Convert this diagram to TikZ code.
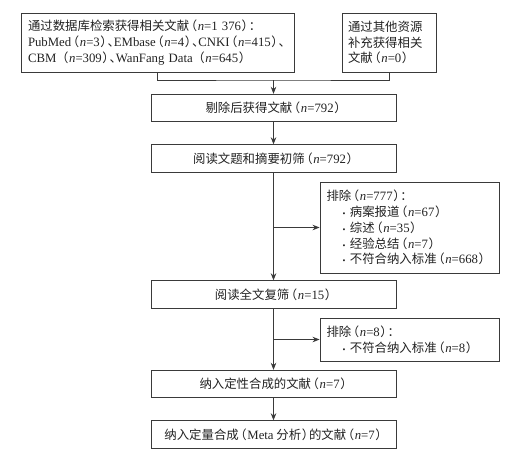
\documentclass[tikz,border=0pt]{standalone}
\usepackage{fontspec}
\setmainfont{Liberation Serif}[Scale=1.03]
\newfontfamily\cjk{Noto Sans CJK SC}[RawFeature=+halt]
\usetikzlibrary{arrows.meta}
\newcommand\lt[1]{{\rmfamily #1}}
\newcommand\nn{{\rmfamily\itshape n}}
\newcommand\lp{\kern1.8pt（\kern0.6pt}
\newcommand\rp{\kern0.6pt）\kern1pt}
\newcommand\bul{\hspace*{16pt}{\rmfamily\footnotesize\textbullet}\hspace{4.5pt}}
\definecolor{linec}{HTML}{3A3A3A}
\definecolor{txtc}{HTML}{222222}
\begin{document}
\begin{tikzpicture}[x=1pt,y=-1pt,
  box/.style={draw=linec, line width=0.9pt, inner sep=0pt, text=txtc,
    font=\cjk\fontsize{12.4}{15.8}\selectfont},
  mid/.style={box, minimum width=245pt, minimum height=27.5pt},
  side/.style={box, inner xsep=6.5pt, text width=166pt, minimum width=179pt, align=left},
  arr/.style={draw=linec, line width=0.9pt, -{Stealth[length=7pt,width=5.5pt]}},
  ln/.style={draw=linec, line width=0.9pt}]
\useasboundingbox (0,0) rectangle (522,455);
\node[box, inner xsep=7pt, text width=259pt, minimum width=273pt, minimum height=59pt, align=left] (b1) at (157.5,42.5)
{通过数据库检索获得相关文献\lp{}\nn\lt{=1 376}\rp{}：\\
\lt{PubMed}\lp{}\nn\lt{=3}\rp{}、\lt{EMbase}\lp{}\nn\lt{=4}\rp{}、\lt{CNKI}\lp{}\nn\lt{=415}\rp{}、\\
\lt{CBM} \lp{}\nn\lt{=309}\rp{}、\lt{WanFang Data} \lp{}\nn\lt{=645}\rp{}};
\node[box, inner xsep=6pt, text width=82pt, minimum width=94pt, minimum height=59pt, align=left] (b2) at (389,42.5)
{通过其他资源\\
补充获得相关\\
文献\lp{}\nn\lt{=0}\rp{}};
\node[mid] (b3) at (273.5,108) {剔除后获得文献\lp{}\nn\lt{=792}\rp{}};
\node[mid] (b4) at (273.5,158.5) {阅读文题和摘要初筛\lp{}\nn\lt{=792}\rp{}};
\node[side, minimum height=91pt] (e1) at (409.5,227.5)
{排除\lp{}\nn\lt{=777}\rp{}：\\
\bul 病案报道\lp{}\nn\lt{=67}\rp{}\\
\bul 综述\lp{}\nn\lt{=35}\rp{}\\
\bul 经验总结\lp{}\nn\lt{=7}\rp{}\\
\bul 不符合纳入标准\lp{}\nn\lt{=668}\rp{}};
\node[mid] (b5) at (273.5,294.5) {阅读全文复筛\lp{}\nn\lt{=15}\rp{}};
\node[side, minimum height=43pt] (e2) at (409.5,339.5)
{排除\lp{}\nn\lt{=8}\rp{}：\\
\bul 不符合纳入标准\lp{}\nn\lt{=8}\rp{}};
\node[mid] (b6) at (273.5,384) {纳入定性合成的文献\lp{}\nn\lt{=7}\rp{}};
\node[mid] (b7) at (273.5,434.5) {纳入定量合成\lp{}\lt{Meta} 分析\rp{}的文献\lp{}\nn\lt{=7}\rp{}};
\coordinate (m) at (273.5,80);
\draw[ln] (b1.south) |- (m) -| (b2.south);
\draw[arr] (m) -- (b3.north);
\draw[arr] (b3.south) -- (b4.north);
\draw[arr] (b4.south) -- (b5.north);
\draw[arr] (b4.south |- e1.west) -- (e1.west);
\draw[arr] (b5.south) -- (b6.north);
\draw[arr] (b5.south |- e2.west) -- (e2.west);
\draw[arr] (b6.south) -- (b7.north);
\end{tikzpicture}
\end{document}
